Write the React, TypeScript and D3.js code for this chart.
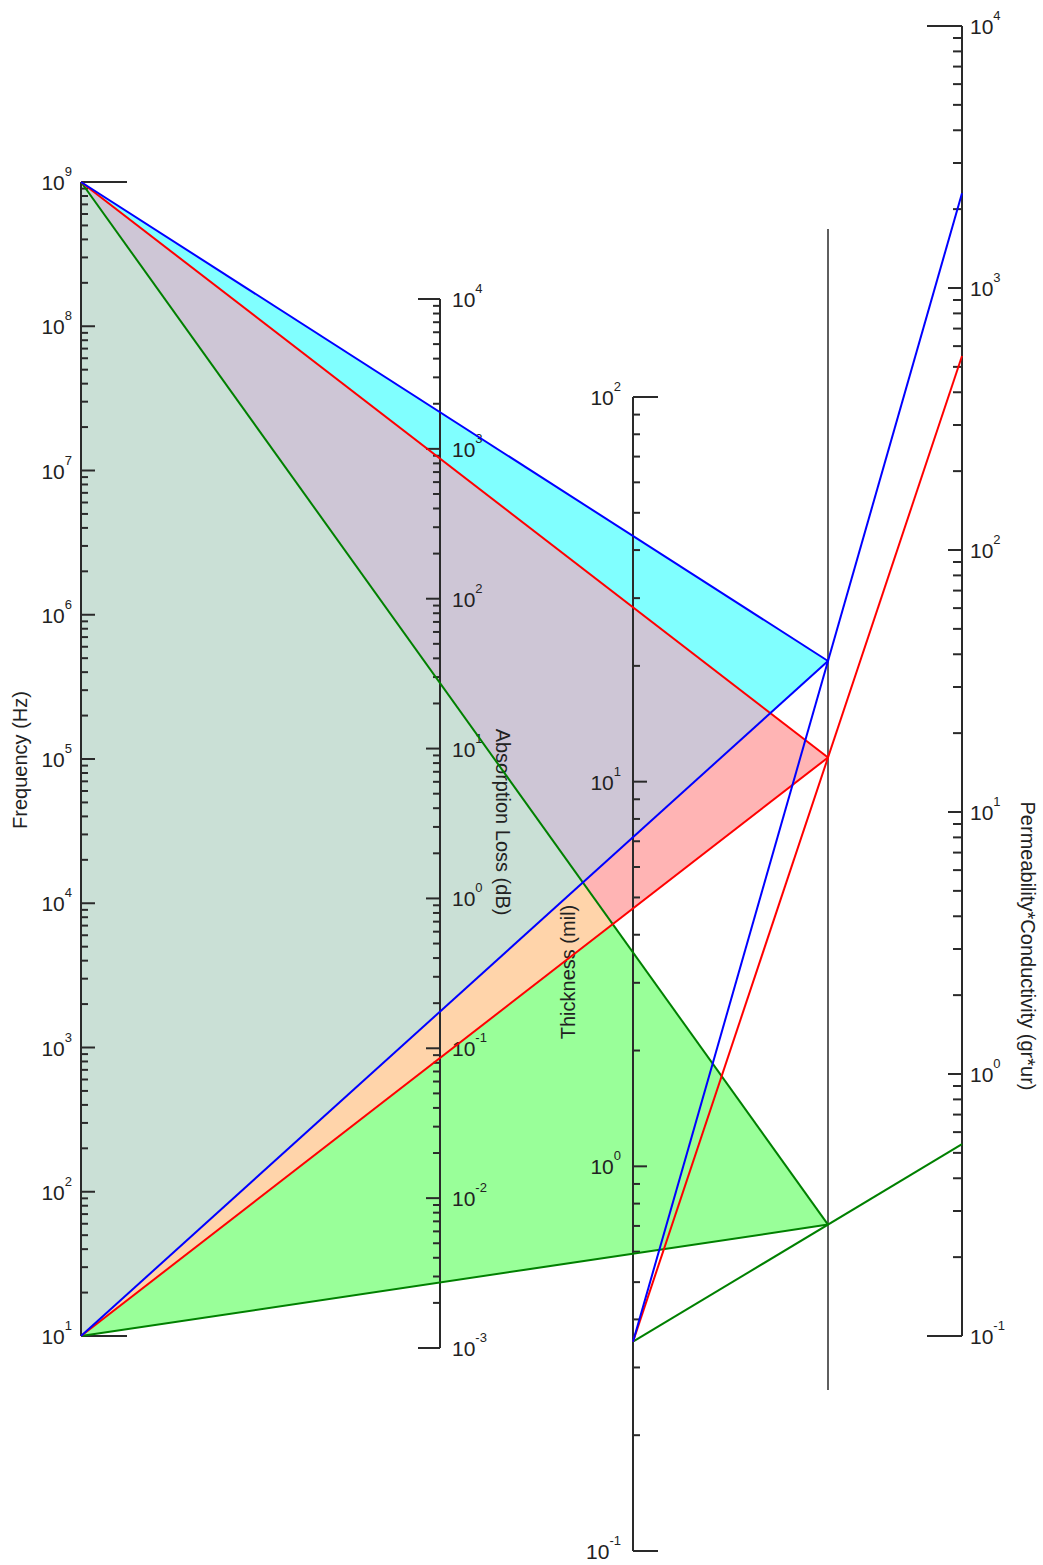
import * as d3 from "d3";

// axis domains (log scales)
const freqDomain = [1e1, 1e9];
const absorptionDomain = [1e-3, 1e4];
const thicknessDomain = [1e-1, 1e2];
const permDomain = [1e-1, 1e4];

// the three worked examples drawn on the nomogram
const seriesLine = ["#0000ff", "#ff0000", "#008000"];
const seriesFill = ["#80ffff", "#ffb4b4", "#99ff99"];
const seriesThickness = [0.35, 0.35, 0.35];
const seriesPermCond = [2300, 550, 0.54];
const freqEnds = [1e9, 1e1];

// colours where the shaded triangles overlap
const fillBlueRed = "#cec6d6";
const fillRedGreen = "#ffd4aa";
const fillAll = "#cae0d6";

const W = 1043;
const H = 1565;
const font = "'Liberation Sans', Arial, sans-serif";
const axisColor = "#2a2a2a";

const xFreq = 81;
const xAbs = 440;
const xThick = 633;
const xPivot = 828;
const xPerm = 962;

const yFreq = d3.scaleLog().domain(freqDomain).range([1336, 182]);
const yAbs = d3.scaleLog().domain(absorptionDomain).range([1348, 299]);
const yThick = d3.scaleLog().domain(thicknessDomain).range([1551, 397]);
const yPerm = d3.scaleLog().domain(permDomain).range([1336, 26]);

type AxisSpec = {
  x: number;
  scale: d3.ScaleLogarithmic<number, number>;
  domain: number[];
  side: 1 | -1; // ticks to the right (1) or left (-1)
  cap: number;
  minor: number;
  labelGap: number;
};

function LogAxis({ x, scale, domain, side, cap, minor, labelGap }: AxisSpec) {
  const lo = Math.round(Math.log10(domain[0]));
  const hi = Math.round(Math.log10(domain[1]));
  const exps = d3.range(lo, hi + 1);
  const minors: number[] = [];
  exps.slice(0, -1).forEach((e) => {
    for (let k = 2; k <= 9; k++) minors.push(k * Math.pow(10, e));
  });
  const labelSide = -side;
  return (
    <g>
      <line x1={x} x2={x} y1={scale(domain[0])} y2={scale(domain[1])} stroke={axisColor} strokeWidth={2} />
      {exps.map((e) => {
        const y = scale(Math.pow(10, e));
        const len = e === lo || e === hi ? cap : 14;
        return <line key={"M" + e} x1={x} x2={x + side * len} y1={y} y2={y} stroke={axisColor} strokeWidth={2} />;
      })}
      {minors.map((v, i) => (
        <line key={"m" + i} x1={x} x2={x + side * minor} y1={scale(v)} y2={scale(v)} stroke={axisColor} strokeWidth={2} />
      ))}
      {exps.map((e) => (
        <text
          key={"t" + e}
          x={x + labelSide * labelGap}
          y={scale(Math.pow(10, e)) + 8}
          textAnchor={labelSide > 0 ? "start" : "end"}
          fontFamily={font}
          fontSize={21}
          fill="#222"
        >
          10
          <tspan dy={-14} fontSize={13}>
            {String(e)}
          </tspan>
        </text>
      ))}
    </g>
  );
}

export default function App() {
  const frac = (xPivot - xThick) / (xPerm - xThick);
  const pts = seriesLine.map((_, i) => {
    const yT = yThick(seriesThickness[i]);
    const yP = yPerm(seriesPermCond[i]);
    const yPv = yT + frac * (yP - yT);
    return { yT, yP, yPv };
  });
  const tri = (i: number) =>
    `M${xFreq},${yFreq(freqEnds[0])}L${xPivot},${pts[i].yPv}L${xFreq},${yFreq(freqEnds[1])}Z`;

  return (
    <svg
      width={W}
      height={H}
      style={{ position: "absolute", left: 0, top: 0, background: "#fff" }}
    >
      <defs>
        {seriesLine.map((_, i) => (
          <clipPath id={"tri" + i} key={i}>
            <path d={tri(i)} />
          </clipPath>
        ))}
      </defs>
      <rect width={W} height={H} fill="#fff" />

      {/* shaded triangles and their overlaps */}
      {seriesFill.map((c, i) => (
        <path key={i} d={tri(i)} fill={c} />
      ))}
      <path d={tri(1)} fill={fillBlueRed} clipPath="url(#tri0)" />
      <path d={tri(2)} fill={fillRedGreen} clipPath="url(#tri1)" />
      <path d={tri(2)} fill={fillAll} clipPath="url(#tri0)" />

      {/* axes */}
      <LogAxis x={xFreq} scale={yFreq} domain={freqDomain} side={1} cap={46} minor={7} labelGap={9} />
      <LogAxis x={xAbs} scale={yAbs} domain={absorptionDomain} side={-1} cap={22} minor={7} labelGap={12} />
      <LogAxis x={xThick} scale={yThick} domain={thicknessDomain} side={1} cap={25} minor={7} labelGap={12} />
      <LogAxis x={xPerm} scale={yPerm} domain={permDomain} side={-1} cap={35} minor={9} labelGap={8} />
      <line x1={xPivot} x2={xPivot} y1={229} y2={1390} stroke={axisColor} strokeWidth={1.5} />

      {/* axis titles */}
      <g fontFamily={font} fontSize={20} fill="#222" textAnchor="middle" dominantBaseline="central">
        <text transform="translate(20,760) rotate(-90)">Frequency (Hz)</text>
        <text transform="translate(503,822) rotate(90)">Absorption Loss (dB)</text>
        <text transform="translate(568,972) rotate(-90)">Thickness (mil)</text>
        <text transform="translate(1028,946) rotate(90)">Permeability*Conductivity (gr*ur)</text>
      </g>

      {/* construction lines, drawn green → red → blue */}
      {[2, 1, 0].map((i) => (
        <g key={i} stroke={seriesLine[i]} strokeWidth={2} fill="none">
          <line x1={xFreq} y1={yFreq(freqEnds[0])} x2={xPivot} y2={pts[i].yPv} />
          <line x1={xFreq} y1={yFreq(freqEnds[1])} x2={xPivot} y2={pts[i].yPv} />
          <line x1={xThick} y1={pts[i].yT} x2={xPerm} y2={pts[i].yP} />
        </g>
      ))}
    </svg>
  );
}
